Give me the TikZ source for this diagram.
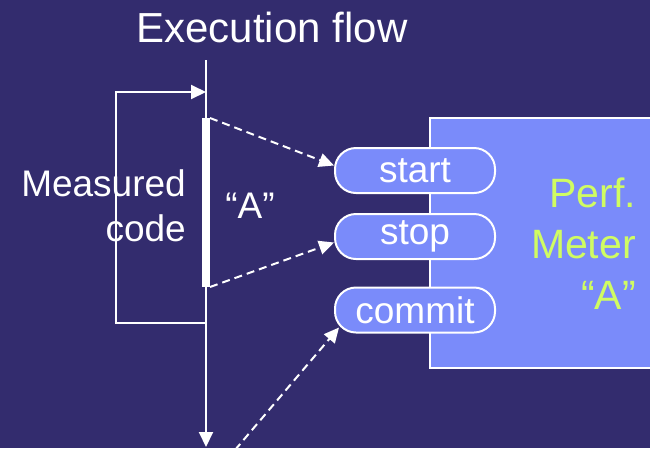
\documentclass[tikz,border=0pt]{standalone}
\usepackage{fontspec}
\setmainfont{Liberation Sans}
\usetikzlibrary{positioning, arrows.meta}
\definecolor{bgblue}{RGB}{51,44,110}
\definecolor{meterblue}{RGB}{122,139,250}
\definecolor{metertext}{RGB}{208,252,98}

\begin{document}
\begin{tikzpicture}[
  x=1pt, y=-1pt,
  every node/.style={text=white, inner sep=0pt, font=\fontsize{37}{45}\selectfont},
  tip/.style={-{Triangle[length=15pt, width=14pt]}},
  flow/.style={draw=white, line width=2pt},
  call/.style={draw=white, line width=2pt, dash pattern=on 8pt off 5pt, tip},
  pill/.style={draw=white, line width=2pt, fill=meterblue, rounded corners=21pt,
    minimum width=160pt, minimum height=45pt},
  meter/.style={draw=white, line width=2pt, fill=meterblue,
    minimum width=240pt, minimum height=250pt}
]
\useasboundingbox (0,0) rectangle (650,448);
\clip (0,0) rectangle (650,448);
\fill[bgblue] (0,0) rectangle (650,448);

% execution flow
\node[anchor=base, font=\fontsize{42}{50}\selectfont] (title) at (272,42) {Execution flow};
\coordinate (top) at (206,60);
\coordinate (bottom) at (206,447);
\draw[flow, tip] (top) -- (bottom);

% measured part
\coordinate (loopin) at (206,323);
\coordinate (loopout) at (206,92);
\draw[flow, tip] (loopin) -- ++(-90,0) |- (loopout);
\coordinate (barA) at (206,118);
\coordinate (barB) at (206,287);
\draw[white, line width=8pt] (barA) -- (barB);
\node[anchor=east, align=right] (measured) at (186,206) {Measured\\code};
\node[anchor=base] (name) at (250,218) {``A''};

% perf meter
\node[meter, anchor=north west] (meter) at (429,117) {};
\node[anchor=east, align=right, text=metertext, font=\fontsize{41}{51}\selectfont]
  (label) at (636,244) {Perf.\\Meter\\``A''};
\node[pill] (start) at (415,170.5) {start};
\node[pill] (stop) at (415,236.5) {stop};
\node[pill] (commit) at (415,310) {commit};

% calls
\coordinate (trigger) at (235,450);
\draw[call] ([xshift=4pt]barA) -- ([yshift=5pt]start.west);
\draw[call] ([xshift=4pt]barB) -- ([yshift=-6pt]stop.west);
\draw[call] (trigger) -- ([shift={(5pt,6pt)}]commit.south west);
\end{tikzpicture}
\end{document}
